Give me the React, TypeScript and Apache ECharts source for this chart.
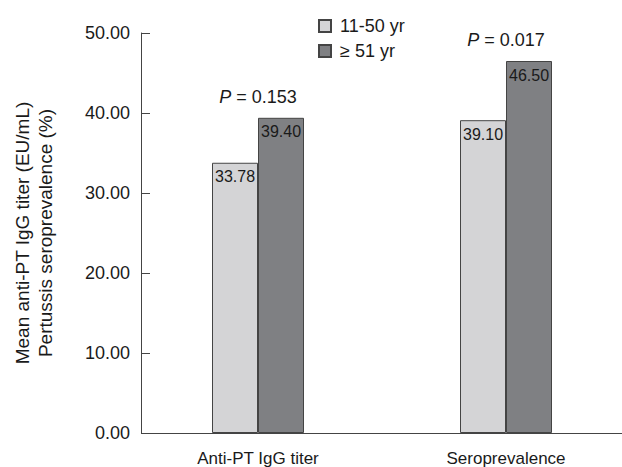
import React, { useEffect, useRef } from "react";
import * as echarts from "echarts";

const categories = ["Anti-PT IgG titer", "Seroprevalence"];
const seriesNames = ["11-50 yr", "\u2265 51 yr"];
const youngValues = [33.78, 39.1];
const oldValues = [39.4, 46.5];
const pValues = ["0.153", "0.017"];
const yTicks = { min: 0, max: 50, interval: 10 };

const FONT = "'Liberation Sans', Arial, sans-serif";
const TXT = "#1a1a1a";

export default function App() {
  const ref = useRef<HTMLDivElement>(null);
  useEffect(() => {
    if (!ref.current) return;
    const chart = echarts.init(ref.current, undefined, { renderer: "svg" });
    const pTop = youngValues.map((v, i) => Math.max(v, oldValues[i]));
    chart.setOption({
      animation: false,
      textStyle: { fontFamily: FONT },
      grid: {
        left: 134,
        right: -8,
        top: 33,
        bottom: 34,
        containLabel: false,
        outerBoundsMode: "none",
      },
      legend: {
        orient: "vertical",
        left: 313,
        top: 12,
        itemWidth: 12,
        itemHeight: 12,
        itemGap: 7,
        icon: "rect",
        textStyle: { fontSize: 18, color: TXT, fontFamily: FONT, padding: [0, 0, 0, 4] },
        data: seriesNames,
      },
      xAxis: {
        type: "category",
        data: categories,
        axisLine: { show: false },
        axisTick: { show: false },
        axisLabel: { fontSize: 17, color: TXT, margin: 17, fontFamily: FONT },
      },
      yAxis: {
        type: "value",
        min: yTicks.min,
        max: yTicks.max,
        interval: yTicks.interval,
        offset: -7,
        splitLine: { show: false },
        axisLine: { show: true, lineStyle: { color: "#444", width: 1 } },
        axisTick: { show: true, inside: true, length: 9, lineStyle: { color: "#444" } },
        axisLabel: {
          fontSize: 18,
          color: TXT,
          margin: 11,
          fontFamily: FONT,
          formatter: (v: number) => v.toFixed(2),
        },
        name: "Mean anti-PT IgG titer (EU/mL)\nPertussis seroprevalence (%)",
        nameLocation: "middle",
        nameGap: 84,
        nameTextStyle: { fontSize: 19, color: TXT, lineHeight: 23, fontFamily: FONT },
      },
      series: [
        {
          name: seriesNames[0],
          type: "bar",
          data: youngValues,
          barWidth: 46,
          barGap: "0%",
          itemStyle: { color: "#d4d4d6", borderColor: "#444", borderWidth: 1 },
          label: {
            show: true,
            position: "insideTop",
            distance: 6,
            fontSize: 16,
            color: TXT,
            fontFamily: FONT,
            formatter: (p: any) => p.value.toFixed(2),
          },
        },
        {
          name: seriesNames[1],
          type: "bar",
          data: oldValues,
          barWidth: 46,
          barGap: "0%",
          itemStyle: { color: "#7f8083", borderColor: "#444", borderWidth: 1 },
          label: {
            show: true,
            position: "insideTop",
            distance: 6,
            fontSize: 16,
            color: TXT,
            fontFamily: FONT,
            formatter: (p: any) => p.value.toFixed(2),
          },
        },
        {
          name: "p",
          type: "scatter",
          data: pTop,
          symbolSize: 0,
          silent: true,
          itemStyle: { opacity: 1, color: "rgba(0,0,0,0)" },
          label: {
            show: true,
            position: "top",
            distance: 12,
            fontSize: 18,
            color: TXT,
            opacity: 1,
            fontFamily: FONT,
            formatter: (p: any) => `{i|P} = ${pValues[p.dataIndex]}`,
            rich: { i: { fontStyle: "italic", fontSize: 18, fontFamily: FONT, color: TXT } },
          },
        },
      ],
      graphic: [
        {
          type: "line",
          shape: { x1: 141, y1: 433.5, x2: 622, y2: 433.5 },
          style: { stroke: "#444", lineWidth: 1 },
        },
      ],
    });
    return () => chart.dispose();
  }, []);
  return <div ref={ref} style={{ width: 622, height: 467, position: "absolute", left: 0, top: 0 }} />;
}
